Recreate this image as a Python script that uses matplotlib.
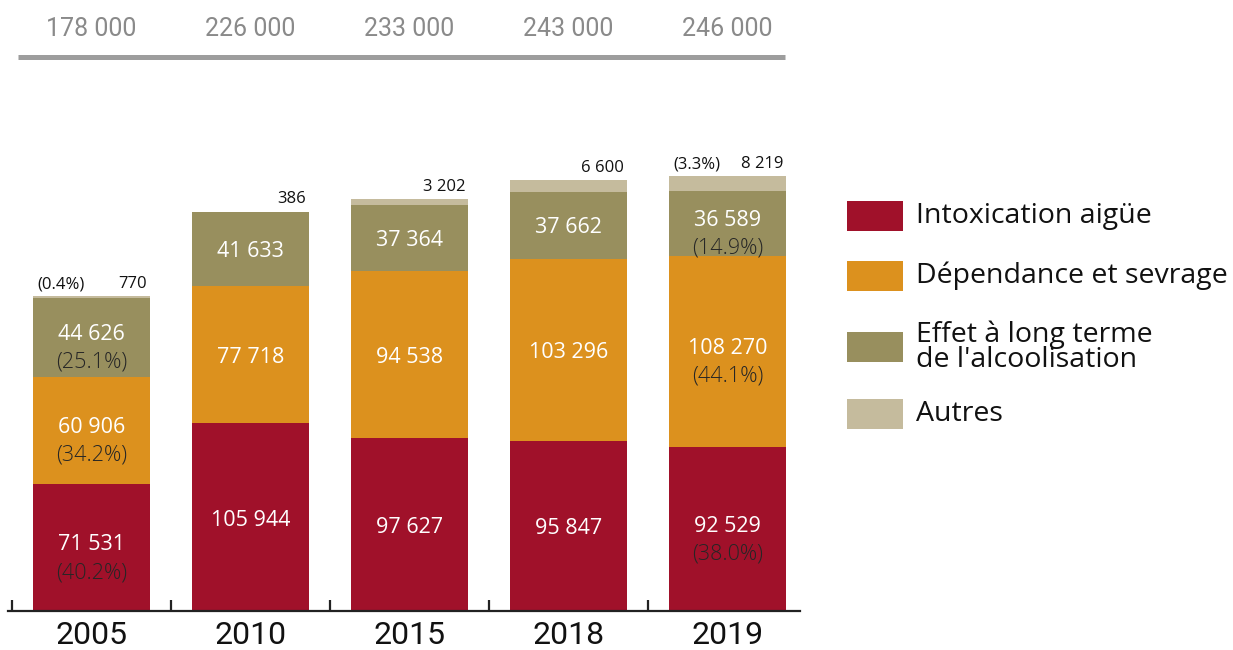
import matplotlib
matplotlib.use("Agg")
import matplotlib.pyplot as plt
from matplotlib.patches import Rectangle
from matplotlib.lines import Line2D
import matplotlib.transforms as mtransforms

# données
annees = ["2005", "2010", "2015", "2018", "2019"]
totaux = ["178 000", "226 000", "233 000", "243 000", "246 000"]
intoxication = [71531, 105944, 97627, 95847, 92529]
dependance = [60906, 77718, 94538, 103296, 108270]
effet_long = [44626, 41633, 37364, 37662, 36589]
autres = [770, 386, 3202, 6600, 8219]
pct_intox = ["(40.2%)", None, None, None, "(38.0%)"]
pct_dep = ["(34.2%)", None, None, None, "(44.1%)"]
pct_effet = ["(25.1%)", None, None, None, "(14.9%)"]
pct_autres = ["(0.4%)", None, None, None, "(3.3%)"]

noms = ["Intoxication aigüe", "Dépendance et sevrage",
        "Effet à long terme\nde l'alcoolisation", "Autres"]
couleurs = ["#A0112A", "#DC911E", "#988F5E", "#C5BB9D"]

W, H = 1233, 650
etroit = ["Roboto", "DejaVu Sans"]
normal = ["Open Sans", "DejaVu Sans"]


def fmt(v):
    return f"{v:,}".replace(",", " ")


def fx(px):
    return px / W


def fy(py):
    return 1 - py / H


fig = plt.figure(figsize=(W / 100, H / 100), dpi=100)
ax = fig.add_axes([0, 39 / H, 810 / W, 611 / H])

x = list(range(len(annees)))
largeur = 0.736
series = [intoxication, dependance, effet_long, autres]
pcts = [pct_intox, pct_dep, pct_effet, pct_autres]

bas = [0] * len(x)
for k in range(4):
    vals = series[k]
    ax.bar(x, vals, width=largeur, bottom=bas, color=couleurs[k], linewidth=0)
    if k < 3:
        for i in range(len(x)):
            centre = bas[i] + vals[i] / 2
            p = pcts[k][i]
            if p is None:
                ax.annotate(fmt(vals[i]), (x[i], centre), xytext=(0, -2),
                            textcoords="offset points", ha="center", va="center",
                            color="white", fontsize=15.5, family=normal)
            else:
                ax.annotate(fmt(vals[i]), (x[i], centre), xytext=(0, 2),
                            textcoords="offset points", ha="center", va="center",
                            color="white", fontsize=15.5, family=normal)
                ax.annotate(p, (x[i], centre), xytext=(0, -18),
                            textcoords="offset points", ha="center", va="center",
                            color="#262626", fontsize=15.5, family=normal,
                            fontweight="light")
    bas = [bas[i] + vals[i] for i in range(len(x))]

# étiquettes au-dessus des barres (Autres)
for i in range(len(x)):
    ax.annotate(fmt(autres[i]), (x[i] + largeur / 2, bas[i]), xytext=(-2, 3),
                textcoords="offset points", ha="right", va="bottom",
                color="#111111", fontsize=12, family=normal)
    if pct_autres[i] is not None:
        ax.annotate(pct_autres[i], (x[i] - largeur / 2, bas[i]), xytext=(3, 3),
                    textcoords="offset points", ha="left", va="bottom",
                    color="#111111", fontsize=12, family=normal)

ax.set_xlim(-91.5 / 159, (810 - 91.5) / 159)
ax.set_ylim(0, 611 / 0.00177)

for s in ["top", "right", "left"]:
    ax.spines[s].set_visible(False)
ax.spines["bottom"].set_bounds((8 - 91.5) / 159, (800 - 91.5) / 159)
ax.spines["bottom"].set_linewidth(1.6)
ax.spines["bottom"].set_color("#222222")
ax.set_yticks([])
ax.set_xticks(x)
ax.set_xticklabels(annees, fontsize=23, family=etroit, color="#111111")
ax.tick_params(axis="x", which="major", length=0, pad=7)
ax.set_xticks([i - 0.5 for i in x], minor=True)
ax.tick_params(axis="x", which="minor", direction="in", length=8, width=1.6,
               color="#222222")

# totaux en haut
trans = mtransforms.blended_transform_factory(ax.transData, fig.transFigure)
for i in range(len(x)):
    ax.text(x[i], fy(29), totaux[i], transform=trans, ha="center", va="center",
            fontsize=18, color="#8a8a8a", family=etroit, clip_on=False)
fig.add_artist(Line2D([fx(18), fx(785)], [fy(57), fy(57)], color="#9d9d9d",
                      linewidth=3.6, solid_capstyle="butt"))

# légende
lignes_y = [216, 276, 347, 414]
for k in range(4):
    fig.add_artist(Rectangle((fx(847), fy(lignes_y[k] + 15)), fx(56), 30 / H,
                             transform=fig.transFigure, color=couleurs[k],
                             linewidth=0))
    fig.text(fx(916), fy(lignes_y[k]), noms[k], ha="left", va="center",
             fontsize=20.5, color="#111111", family=normal, linespacing=0.85)

fig.savefig("out.png", dpi=100)
